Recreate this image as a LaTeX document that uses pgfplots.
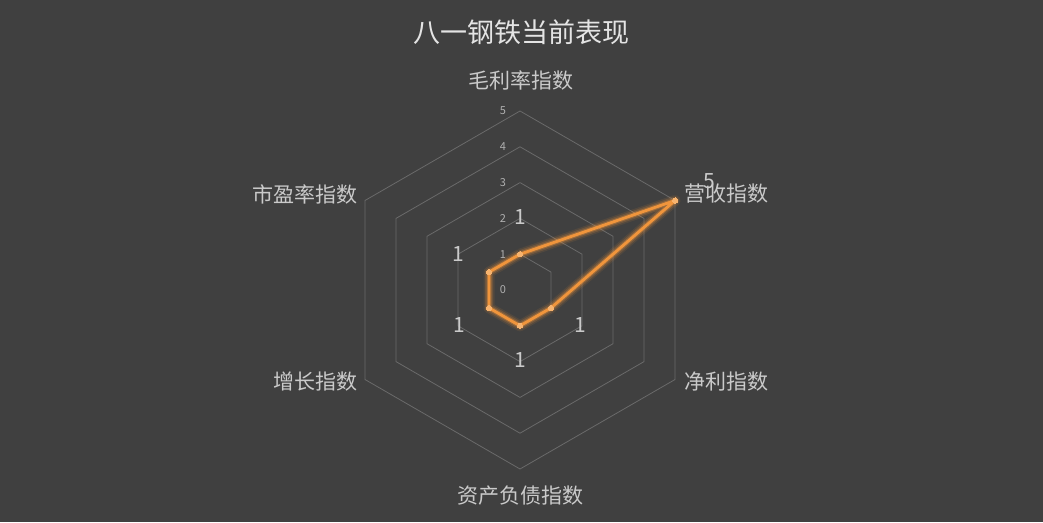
\documentclass[border=0pt]{standalone}
\usepackage{pgfplots}
\pgfplotsset{compat=1.18}
\usepgfplotslibrary{polar}
\usepackage{fontspec}
\setmainfont{Noto Sans CJK SC}

\definecolor{bg}{HTML}{404040}
\definecolor{gridc}{HTML}{6A6A6A}
\definecolor{linec}{HTML}{F0953C}
\definecolor{markc}{HTML}{F7B36E}
\definecolor{titlec}{HTML}{E4E4E4}
\definecolor{labelc}{HTML}{CACACA}
\definecolor{tickc}{HTML}{B0B0B0}

\begin{document}
\begin{tikzpicture}[x=1pt,y=1pt]
\fill[bg] (0,0) rectangle (1043,522);
\useasboundingbox (0,0) rectangle (1043,522);

\begin{polaraxis}[
    at={(520pt,232pt)}, anchor=origin,
    width=358pt, height=358pt, scale only axis,
    hide axis, clip=false,
    xmin=0, xmax=360, ymin=0, ymax=5,
]
% hexagonal grid
\pgfplotsinvokeforeach{1,...,5}{
  \addplot[gridc, line width=0.8pt, no marks] coordinates {
    (90,#1) (30,#1) (330,#1) (270,#1) (210,#1) (150,#1) (90,#1)
  };
}
% glow
\addplot[linec, line width=11pt, opacity=0.10, no marks, line join=round] coordinates {
  (90,1) (30,5) (330,1) (270,1) (210,1) (150,1) (90,1)
};
\addplot[linec, line width=8pt, opacity=0.18, no marks, line join=round] coordinates {
  (90,1) (30,5) (330,1) (270,1) (210,1) (150,1) (90,1)
};
\addplot[linec, line width=5pt, opacity=0.35, no marks, line join=round] coordinates {
  (90,1) (30,5) (330,1) (270,1) (210,1) (150,1) (90,1)
};
% series
\addplot[linec, line width=2.8pt, line join=round,
  mark=*, mark size=2.6pt, mark options={fill=markc, draw=markc, line width=0pt}] coordinates {
  (90,1) (30,5) (330,1) (270,1) (210,1) (150,1) (90,1)
};
% radial tick labels
\pgfplotsinvokeforeach{0,...,5}{
  \node[tickc, font=\fontsize{11}{12}\selectfont] at (axis cs:90,#1) [xshift=-17pt] {#1};
}
% value labels
\begin{scope}[every node/.style={labelc, font=\fontsize{21}{22}\selectfont}]
\node at (axis cs:90,2.03) {1};
\node at (axis cs:30,6.1) {5};
\node at (axis cs:330,1.95) {1};
\node at (axis cs:270,1.95) {1};
\node at (axis cs:210,1.95) {1};
\node at (axis cs:150,2.0) {1};
\end{scope}
\end{polaraxis}

\node[titlec, font=\fontsize{27}{30}\selectfont] at (521,490) {八一钢铁当前表现};
\begin{scope}[every node/.style={labelc, font=\fontsize{21}{24}\selectfont, inner sep=0pt}]
\node at (521,442) {毛利率指数};
\node[anchor=west] at (684,328) {营收指数};
\node[anchor=west] at (684,140) {净利指数};
\node at (520,26) {资产负债指数};
\node[anchor=east] at (358,140) {增长指数};
\node[anchor=east] at (358,328) {市盈率指数};
\end{scope}
\end{tikzpicture}
\end{document}
